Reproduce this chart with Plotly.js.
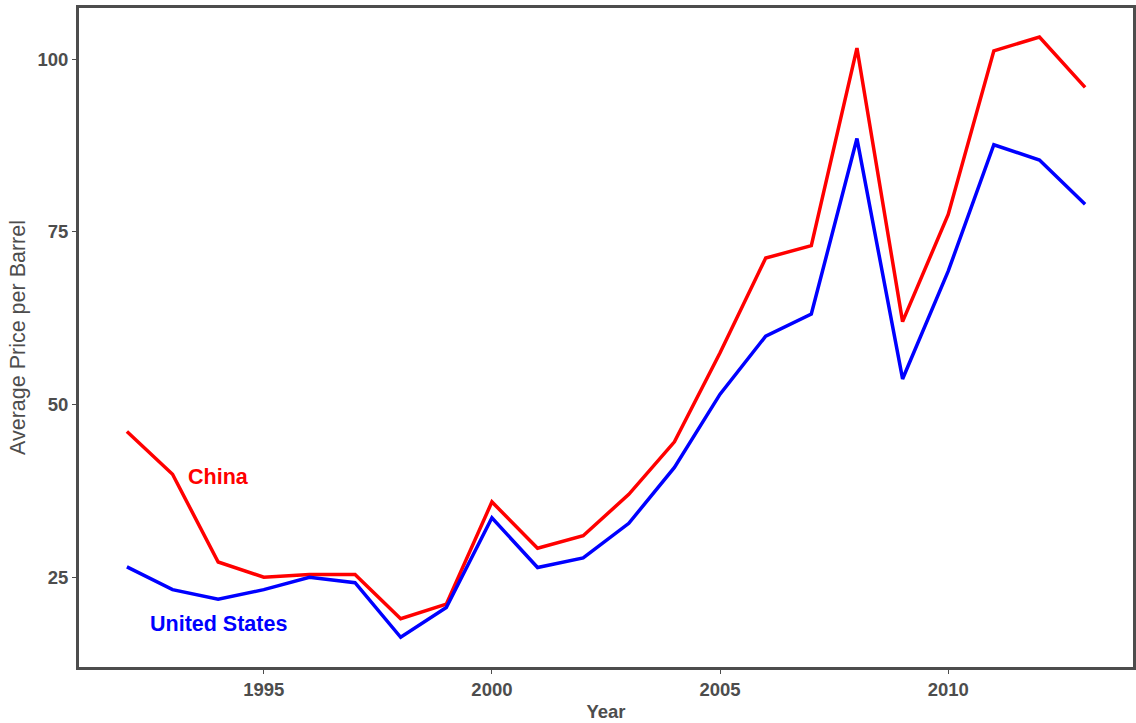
<!DOCTYPE html>
<html>
<head>
<meta charset="utf-8">
<script src="https://cdn.plot.ly/plotly-3.0.1.min.js"></script>
<style>html,body{margin:0;padding:0;background:#fff;}#chart{width:1136px;height:723px;}</style>
</head>
<body>
<div id="chart"></div>
<script>
const years = [1992,1993,1994,1995,1996,1997,1998,1999,2000,2001,2002,2003,2004,2005,2006,2007,2008,2009,2010,2011,2012,2013];
const china = [46.1,39.9,27.2,25.0,25.4,25.4,19.0,21.1,35.9,29.2,31.0,37.0,44.6,57.5,71.2,73.0,101.6,62.0,77.5,101.2,103.2,95.9];
const unitedStates = [26.5,23.2,21.8,23.2,25.0,24.2,16.3,20.6,33.6,26.4,27.8,32.8,40.9,51.5,59.9,63.1,88.5,53.7,69.3,87.6,85.4,79.0];
const xTicks = [1995,2000,2005,2010];
const yTicks = [25,50,75,100];
const labels = [
  {text:'China', x:1994.0, y:39.5, color:'#ff0000'},
  {text:'United States', x:1994.0, y:18.2, color:'#0000ff'}
];

const grey = '#4d4d4d';
const traces = [
  {x:years, y:china, type:'scatter', mode:'lines', line:{color:'#ff0000', width:3.5}, name:'China'},
  {x:years, y:unitedStates, type:'scatter', mode:'lines', line:{color:'#0000ff', width:3.5}, name:'United States'}
];
const layout = {
  width:1136, height:723,
  margin:{l:79, r:3, t:8, b:56},
  paper_bgcolor:'#fff', plot_bgcolor:'#fff',
  showlegend:false,
  font:{family:'Liberation Sans, Arial, sans-serif', color:grey},
  xaxis:{
    range:[1990.95, 2014.05], tickvals:xTicks, ticktext:xTicks.map(String),
    showgrid:false, zeroline:false, showline:true, mirror:true, linecolor:grey, linewidth:3,
    ticks:'outside', ticklen:4, tickcolor:grey, tickwidth:1,
    tickfont:{size:18.5, color:grey, family:'Liberation Sans, Arial, sans-serif', weight:'bold'},
    title:{text:'<b>Year</b>', font:{size:18.5, color:grey}, standoff:6}
  },
  yaxis:{
    range:[12.0, 107.4], tickvals:yTicks, ticktext:yTicks.map(String),
    showgrid:false, zeroline:false, showline:true, mirror:true, linecolor:grey, linewidth:3,
    ticks:'outside', ticklen:4, tickcolor:grey, tickwidth:1,
    tickfont:{size:18.5, color:grey, family:'Liberation Sans, Arial, sans-serif', weight:'bold'},
    title:{text:'Average Price per Barrel', font:{size:21.5, color:grey}, standoff:6}
  },
  annotations: labels.map(l => ({
    x:l.x, y:l.y, xref:'x', yref:'y', text:'<b>'+l.text+'</b>', showarrow:false,
    font:{size:21.5, color:l.color, family:'Liberation Sans, Arial, sans-serif'}
  }))
};
Plotly.newPlot('chart', traces, layout, {displayModeBar:false, staticPlot:true});
</script>
</body>
</html>
